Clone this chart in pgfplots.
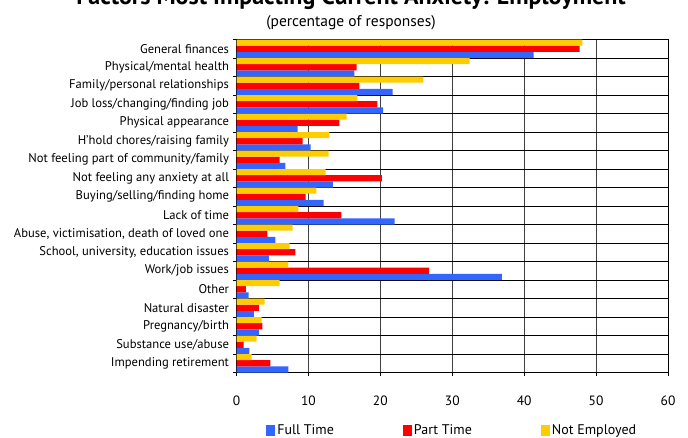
\documentclass[border=0pt]{standalone}
\usepackage{fontspec}
\setmainfont{PT Sans}
\usepackage{pgfplots}
\usepackage{pgfplotstable}
\pgfplotsset{compat=1.18}
\definecolor{ftblue}{RGB}{51,102,255}
\definecolor{ptred}{RGB}{255,0,0}
\definecolor{neyel}{RGB}{255,204,0}
\pgfplotstableread{
idx ft pt ne
0 41.3 47.7 48.1
1 16.4 16.7 32.4
2 21.7 17.1 26.0
3 20.4 19.6 16.8
4 8.5 14.3 15.3
5 10.3 9.2 12.9
6 6.8 6.0 12.8
7 13.4 20.2 12.4
8 12.1 9.6 11.1
9 22.0 14.6 8.6
10 5.4 4.3 7.8
11 4.5 8.2 7.4
12 36.9 26.8 7.2
13 1.7 1.3 6.0
14 2.4 3.1 3.9
15 3.1 3.6 3.5
16 1.8 1.0 2.8
17 7.2 4.7 2.1
}\data
\begin{document}
\begin{tikzpicture}
\begin{axis}[
  at={(236.5pt,-372.5pt)}, anchor=south west,
  scale only axis, width=431.5pt, height=333pt,
  xbar, bar width=0.333,
  xmin=0, xmax=60, xtick={0,10,...,60},
  ymin=-0.5, ymax=17.5, y dir=reverse,
  ytick={0,...,17},
  yticklabels={General finances,Physical/mental health,Family/personal relationships,Job loss/changing/finding job,Physical appearance,H'hold chores/raising family,Not feeling part of community/family,Not feeling any anxiety at all,Buying/selling/finding home,Lack of time,{Abuse, victimisation, death of loved one},{School, university, education issues},Work/job issues,Other,Natural disaster,Pregnancy/birth,Substance use/abuse,Impending retirement},
  minor ytick={-0.5,0.5,...,17.5},
  yminorgrids,
  minor y grid style={black, line width=0.9pt},
  xmajorgrids,
  major x grid style={black!75, line width=0.9pt},
  axis line style={black, line width=0.9pt},
  tick pos=left, tick align=outside,
  major tick length=3pt, minor tick length=4pt,
  every tick/.style={black, line width=0.8pt},
  ytick style={draw=none},
  minor y tick style={draw=black},
  /pgf/number format/assume math mode=true,
  yticklabel style={font=\fontsize{12.6}{14}\selectfont, xshift=-1pt},
  xticklabel style={font=\fontsize{13.5}{15}\selectfont, yshift=-17pt},
  legend style={at={(0.5,-0.173)}, anchor=center, draw=none, fill=none,
    legend columns=3, font=\fontsize{14}{16}\selectfont,
    /tikz/every even column/.append style={column sep=67pt},
    inner sep=0pt},
  legend image code/.code={\fill[#1] (0pt,-5.5pt) rectangle (9pt,5.5pt);},
]
\addplot[fill=ftblue, draw=none, bar shift=0.333] table[x=ft, y=idx] {\data};
\addplot[fill=ptred, draw=none, bar shift=0] table[x=pt, y=idx] {\data};
\addplot[fill=neyel, draw=none, bar shift=-0.333] table[x=ne, y=idx] {\data};
\legend{Full Time,Part Time,Not Employed}
\end{axis}
\node[font=\bfseries\fontsize{24}{28}\selectfont, anchor=base] at (351pt,-4pt) {Factors Most Impacting Current Anxiety: Employment};
\node[font=\fontsize{15.5}{18}\selectfont, anchor=center] at (351pt,-23pt) {(percentage of responses)};
\pgfresetboundingbox
\path[use as bounding box] (0pt,0pt) rectangle (688pt,-437pt);
\end{tikzpicture}
\end{document}
